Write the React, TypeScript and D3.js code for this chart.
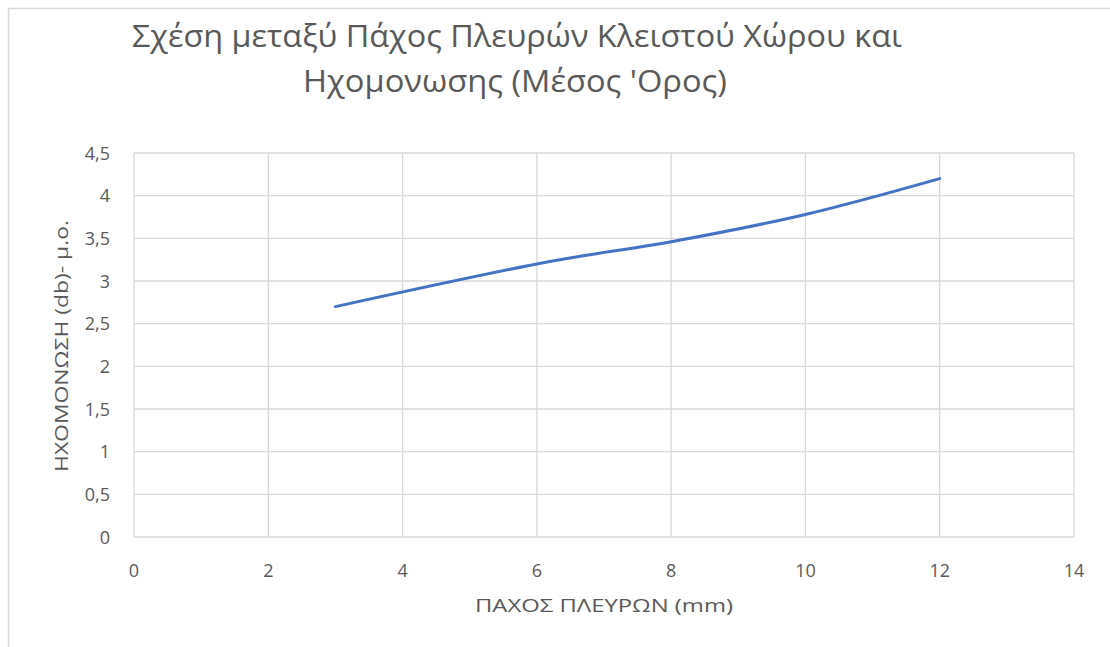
import React from "react";
import * as d3 from "d3";

const thicknessMm = [3, 6, 8, 10, 12];
const soundInsulation = [2.7, 3.2, 3.46, 3.78, 4.2];
const xTicks = [0, 2, 4, 6, 8, 10, 12, 14];
const yTicks = [0, 0.5, 1, 1.5, 2, 2.5, 3, 3.5, 4, 4.5];
const titleLines = ["Σχέση μεταξύ Πάχος Πλευρών Κλειστού Χώρου και", "Ηχομονωσης (Μέσος 'Ορος)"];
const xTitle = "ΠΑΧΟΣ ΠΛΕΥΡΩΝ (mm)";
const yTitle = "ΗΧΟΜΟΝΩΣΗ (db)- μ.ο.";

const W = 1110;
const H = 647;
const left = 134, right = 1074, top = 153, bottom = 537;
const font = "'Open Sans', 'Noto Sans', sans-serif";
const textColor = "#595959";
const grid = "#d9d9d9";

export default function App() {
  const x = d3.scaleLinear().domain([0, 14]).range([left, right]);
  const y = d3.scaleLinear().domain([0, 4.5]).range([bottom, top]);
  const pts: [number, number][] = thicknessMm.map((d, i) => [d, soundInsulation[i]]);
  const line = d3
    .line<[number, number]>()
    .x((d) => x(d[0]))
    .y((d) => y(d[1]))
    .curve(d3.curveCardinal.tension(0));
  const fmt = (v: number) => String(v).replace(".", ",");

  return (
    <svg
      width={W}
      height={H}
      style={{ position: "absolute", left: 0, top: 0, background: "#fff" }}
    >
      <rect x={0} y={0} width={W} height={H} fill="#fff" />
      <path d={`M8.5,${H + 2}V8.5H${W + 2}`} fill="none" stroke="#d9d9d9" strokeWidth={1.5} />
      <text
        x={517}
        y={47}
        textAnchor="middle"
        fontFamily={font}
        fontSize={31}
        fill={textColor}
        textLength={770}
        lengthAdjust="spacingAndGlyphs"
      >
        {titleLines[0]}
      </text>
      <text
        x={515}
        y={92}
        textAnchor="middle"
        fontFamily={font}
        fontSize={31}
        fill={textColor}
        textLength={424}
        lengthAdjust="spacingAndGlyphs"
      >
        {titleLines[1]}
      </text>
      {xTicks.map((t) => (
        <line key={"gx" + t} x1={x(t)} x2={x(t)} y1={top} y2={bottom} stroke={grid} strokeWidth={1.3} />
      ))}
      {yTicks.map((t) => (
        <line key={"gy" + t} x1={left} x2={right} y1={y(t)} y2={y(t)} stroke={grid} strokeWidth={1.3} />
      ))}
      {xTicks.map((t) => (
        <text key={"tx" + t} x={x(t)} y={577} textAnchor="middle" fontFamily={font} fontSize={18} fill={textColor}>
          {fmt(t)}
        </text>
      ))}
      {yTicks.map((t) => (
        <text key={"ty" + t} x={110} y={y(t) + 6.5} textAnchor="end" fontFamily={font} fontSize={18} fill={textColor}>
          {fmt(t)}
        </text>
      ))}
      <path d={line(pts) || ""} fill="none" stroke="#4472c4" strokeWidth={3} strokeLinecap="round" />
      <text
        x={604}
        y={612}
        textAnchor="middle"
        fontFamily={font}
        fontSize={18.5}
        fill={textColor}
        textLength={258}
        lengthAdjust="spacingAndGlyphs"
      >
        {xTitle}
      </text>
      <text
        transform={`translate(68,346) rotate(-90)`}
        textAnchor="middle"
        fontFamily={font}
        fontSize={18.5}
        fill={textColor}
        textLength={252}
        lengthAdjust="spacingAndGlyphs"
      >
        {yTitle}
      </text>
    </svg>
  );
}
